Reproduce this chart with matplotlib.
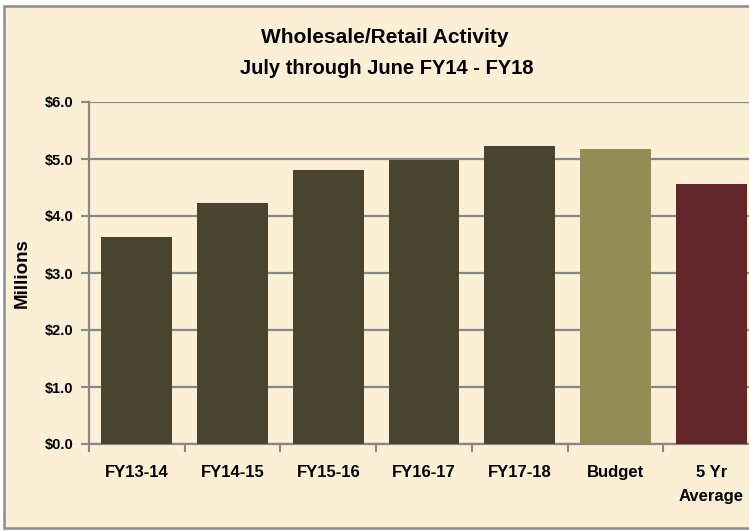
import matplotlib.pyplot as plt
from matplotlib.patches import Rectangle
from matplotlib.ticker import FixedLocator, FuncFormatter

# data (millions)
categories = ["FY13-14", "FY14-15", "FY15-16", "FY16-17", "FY17-18", "Budget", "5 Yr\nAverage"]
values = [3.64, 4.22, 4.81, 4.98, 5.23, 5.17, 4.57]
bar_colors = ["#4a4330"] * 5 + ["#958b55", "#62262a"]

plt.rcParams['font.family'] = ['Liberation Sans', 'DejaVu Sans']
plt.rcParams['font.weight'] = 'bold'

W, H = 749, 531
fig = plt.figure(figsize=(W / 100, H / 100), dpi=100)
fig.patch.set_facecolor("white")

# chart frame with parchment fill
frame = Rectangle((4 / W, 3 / H), 760 / W, 522 / H, transform=fig.transFigure,
                  facecolor="#fbefd6", edgecolor="#8c8c8c", linewidth=1.8, zorder=-5)
fig.patches.append(frame)

ax = fig.add_axes([89 / W, 1 - 444 / H, 670 / W, 342 / H])
ax.set_facecolor("none")
ax.set_zorder(2)

x = list(range(len(categories)))
ax.bar(x, values, width=0.74, color=bar_colors, zorder=3)

ax.set_xlim(-0.5, len(categories) - 0.5)
ax.set_ylim(0, 6)
ax.set_yticks([0, 1, 2, 3, 4, 5, 6])
ax.yaxis.set_major_formatter(FuncFormatter(lambda v, p: "${:.1f}".format(v)))
ax.grid(axis="y", color="#878787", linewidth=1.6, zorder=1)

ax.set_xticks(x)
ax.set_xticklabels(categories, fontsize=12, fontweight="bold", linespacing=1.75)
ax.tick_params(axis="x", which="major", length=0, pad=15)
ax.xaxis.set_minor_locator(FixedLocator([i - 0.5 for i in range(len(categories) + 1)]))
ax.tick_params(axis="x", which="minor", length=6, width=1.5, color="#878787", direction="out")
ax.tick_params(axis="y", length=6, width=1.5, color="#878787", labelsize=10.5, pad=5)
for lab in ax.get_yticklabels():
    lab.set_fontweight("bold")

for s in ["top", "right"]:
    ax.spines[s].set_visible(False)
for s in ["left", "bottom"]:
    ax.spines[s].set_color("#878787")
    ax.spines[s].set_linewidth(1.6)

ax.set_ylabel("Millions", fontsize=13.5, fontweight="bold", labelpad=10)

fig.text(385 / W, 1 - 37 / H, "Wholesale/Retail Activity", ha="center", va="center",
         fontsize=15, fontweight="bold")
fig.text(387 / W, 1 - 68 / H, "July through June FY14 - FY18", ha="center", va="center",
         fontsize=14.5, fontweight="bold")

fig.savefig("out.png", dpi=100)
